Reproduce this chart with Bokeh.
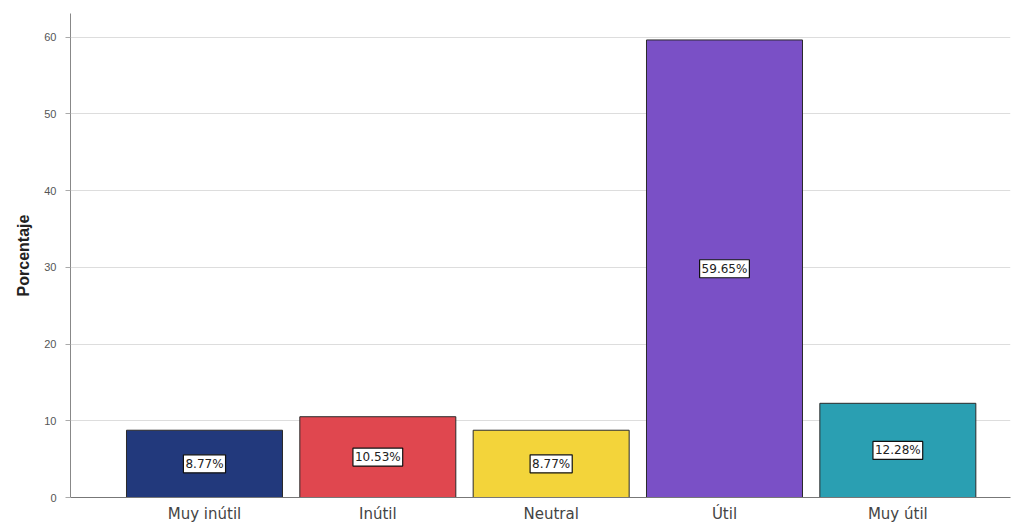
from bokeh.plotting import figure
from bokeh.models import ColumnDataSource, FixedTicker, Range1d
from bokeh.core.properties import value
from bokeh.embed import file_html
from bokeh.resources import INLINE

categories = ["Muy inútil", "Inútil", "Neutral", "Útil", "Muy útil"]
percentages = [8.77, 10.53, 8.77, 59.65, 12.28]
labels = ["8.77%", "10.53%", "8.77%", "59.65%", "12.28%"]
colors = ["#22397c", "#e0474f", "#f3d43a", "#7a50c6", "#2a9fb2"]
y_ticks = [0, 10, 20, 30, 40, 50, 60]

xs = list(range(len(categories)))
src = ColumnDataSource(dict(
    x=xs, top=percentages, mid=[v / 2 for v in percentages],
    label=labels, color=colors,
))

p = figure(width=1011, height=526, output_backend="svg", toolbar_location=None,
           x_range=Range1d(-0.773, 4.65), y_range=Range1d(0, 63.1),
           min_border_left=70, min_border_top=13, min_border_bottom=29, min_border_right=1)
p.outline_line_color = None
p.background_fill_color = "white"

p.vbar(x="x", top="top", bottom=0, width=0.9, fill_color="color",
       line_color="#2a2a2a", line_width=1, source=src)

p.text(x="x", y="mid", text="label", source=src, text_align="center",
       text_baseline="middle", text_font=value("DejaVu Sans"), text_font_size="12px",
       text_color="#222222", background_fill_color="white", border_line_color="#111111",
       border_line_width=1.2, padding=2)

p.xaxis.ticker = FixedTicker(ticks=xs)
p.xaxis.major_label_overrides = {i: c for i, c in zip(xs, categories)}
p.xaxis.major_tick_line_color = None
p.xaxis.major_tick_out = 0
p.xaxis.major_tick_in = 0
p.xaxis.minor_tick_line_color = None
p.xaxis.major_label_text_font = "DejaVu Sans"
p.xaxis.major_label_text_font_size = "15px"
p.xaxis.major_label_text_color = "#444444"
p.xaxis.major_label_standoff = 7
p.xaxis.axis_line_color = "#777777"

p.yaxis.ticker = FixedTicker(ticks=y_ticks)
p.yaxis.minor_tick_line_color = None
p.yaxis.major_tick_out = 5
p.yaxis.major_tick_in = 0
p.yaxis.major_tick_line_color = "#aaaaaa"
p.yaxis.axis_line_color = "#888888"
p.yaxis.major_label_text_font = "Liberation Sans"
p.yaxis.major_label_text_font_size = "11px"
p.yaxis.major_label_text_color = "#555555"
p.yaxis.major_label_standoff = 9
p.yaxis.axis_label = "Porcentaje"
p.yaxis.axis_label_text_font = "Liberation Sans"
p.yaxis.axis_label_text_font_style = "bold"
p.yaxis.axis_label_text_font_size = "16px"
p.yaxis.axis_label_text_color = "#222222"
p.yaxis.axis_label_standoff = 9

p.xgrid.grid_line_color = None
p.ygrid.grid_line_color = "#dddddd"
p.ygrid.grid_line_width = 1

open("out.html", "w").write(file_html(p, INLINE))
